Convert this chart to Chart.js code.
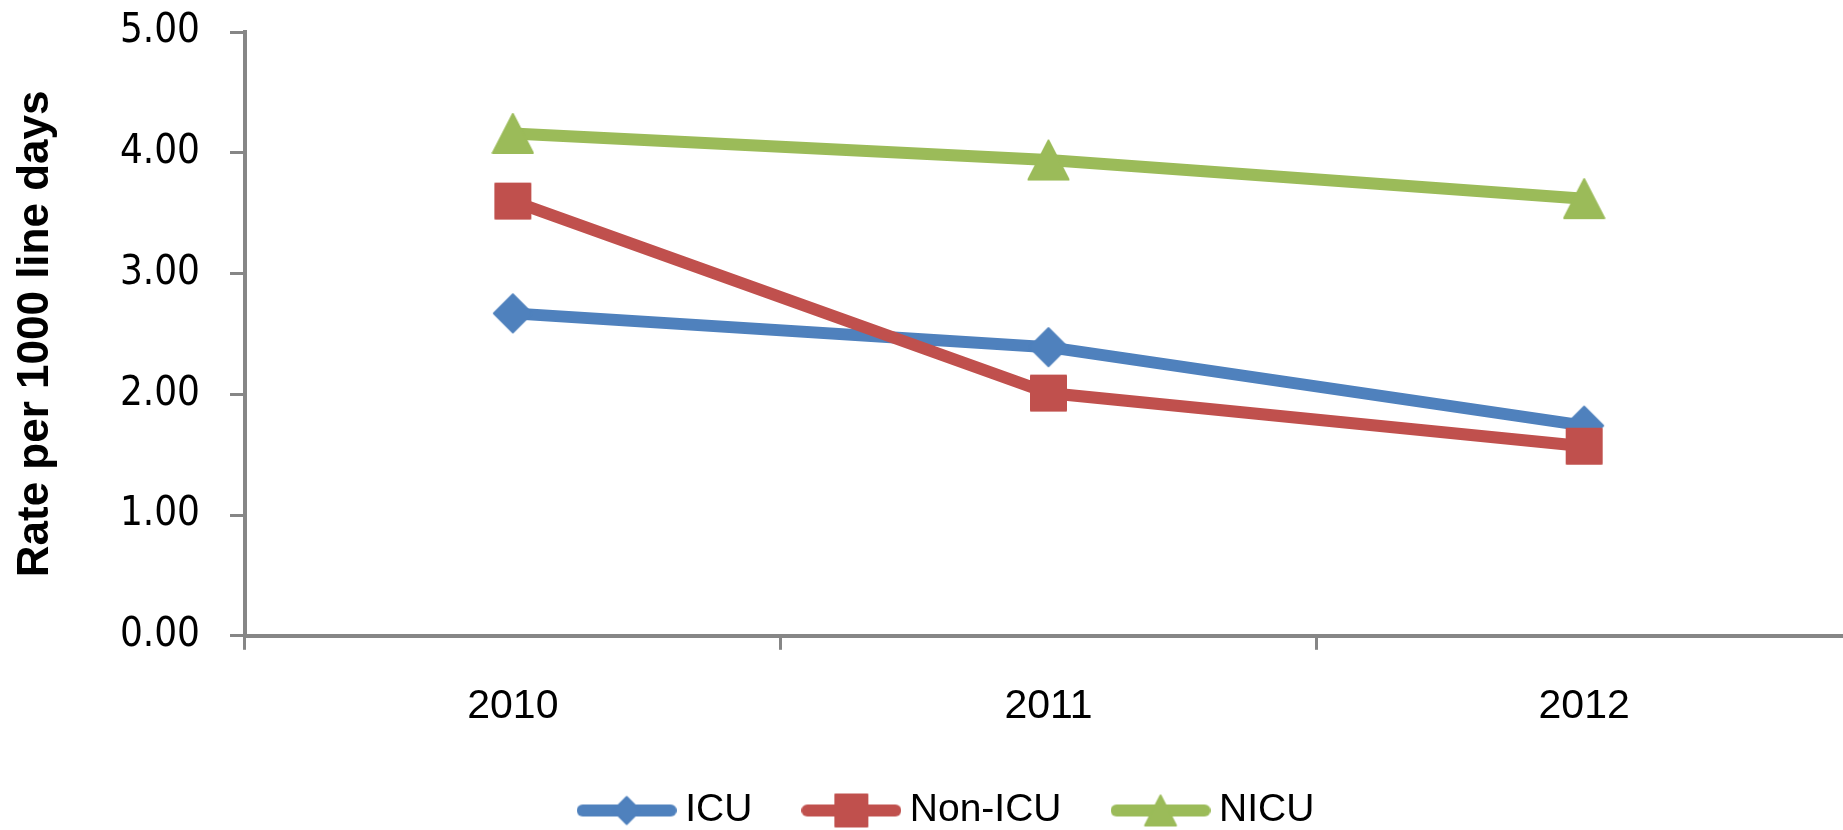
<!DOCTYPE html>
<html>
<head>
<meta charset="utf-8">
<script src="https://cdn.jsdelivr.net/npm/chart.js@4"></script>
<style>
  html, body { margin: 0; padding: 0; background: #fff; overflow: hidden; }
  #wrap { width: 1852px; height: 872px; }
</style>
</head>
<body>
<div id="wrap"><canvas id="chart"></canvas></div>
<script>
// --  data  --
const years = ['2010', '2011', '2012']
const icuRates = [2.67, 2.39, 1.74]
const nonIcuRates = [3.60, 2.01, 1.57]
const nicuRates = [4.16, 3.94, 3.62]
const yTicks = [0, 1, 2, 3, 4, 5]
const seriesNames = ['ICU', 'Non-ICU', 'NICU']

const blue = '#4F81BD'
const red = '#C0504D'
const green = '#9BBB59'
const axisGrey = '#868686'

// draws one excel-like marker, so chart and legend can share it
function drawMarker (ctx, shape, cx, cy, size, color) {
    const h = size / 2
    ctx.fillStyle = color
    ctx.strokeStyle = color
    ctx.lineWidth = 2
    ctx.lineJoin = 'round'
    ctx.beginPath()
    if (shape === 'diamond') {
        ctx.moveTo(cx, cy - h)
        ctx.lineTo(cx + h, cy)
        ctx.lineTo(cx, cy + h)
        ctx.lineTo(cx - h, cy)
    } else if (shape === 'square') {
        ctx.rect(cx - h, cy - h, size, size)
    } else {
        ctx.moveTo(cx, cy - h)
        ctx.lineTo(cx + h * 1.03, cy + h)
        ctx.lineTo(cx - h * 1.03, cy + h)
    }
    ctx.closePath()
    ctx.fill()
    ctx.stroke()
}

function makeMarker (shape, size, color) {
    const c = document.createElement('canvas')
    c.width = size + 4
    c.height = size + 4
    drawMarker(c.getContext('2d'), shape, c.width / 2, c.height / 2, size, color)
    return c
}

// legend symbol = short thick line with the marker in the middle
function makeLegendSymbol (shape, size, color) {
    const c = document.createElement('canvas')
    c.width = 100
    c.height = 40
    const ctx = c.getContext('2d')
    ctx.strokeStyle = color
    ctx.lineWidth = 12
    ctx.lineCap = 'round'
    ctx.beginPath()
    ctx.moveTo(6, 20)
    ctx.lineTo(94, 20)
    ctx.stroke()
    drawMarker(ctx, shape, 50, 20, size, color)
    return c
}

const shapes = ['diamond', 'square', 'triangle']
const colors = [blue, red, green]
const chartMarkerSize = [38, 35, 39]
const legendMarkerSize = [27, 32, 30]

function makeDataset (i, values) {
    return {
        label: seriesNames[i],
        data: values,
        borderColor: colors[i],
        backgroundColor: colors[i],
        borderWidth: 12,
        tension: 0,
        pointStyle: makeMarker(shapes[i], chartMarkerSize[i], colors[i]),
        pointRadius: 20,
        order: 3 - i // excel draws later series on top
    }
}

// small plugin: put the legend where the original has it
const moveLegend = {
    id: 'moveLegend',
    afterLayout (chart) {
        chart.legend.left += 25
        chart.legend.right += 25
        chart.legend.top -= 32
        chart.legend.bottom -= 32
    }
}

new Chart(document.getElementById('chart'), {
    type: 'line',
    data: {
        labels: years,
        datasets: [
            makeDataset(0, icuRates),
            makeDataset(1, nonIcuRates),
            makeDataset(2, nicuRates)
        ]
    },
    plugins: [moveLegend],
    options: {
        responsive: true,
        maintainAspectRatio: false,
        animation: false,
        events: [],
        layout: { autoPadding: false, padding: { top: 32, right: 0, bottom: 0, left: 0 } },
        plugins: {
            tooltip: { enabled: false },
            legend: {
                position: 'bottom',
                labels: {
                    usePointStyle: true,
                    pointStyleWidth: 78,
                    boxHeight: 37,
                    padding: 60,
                    color: '#000',
                    font: { family: 'Liberation Sans', size: 39 },
                    generateLabels: () => seriesNames.map((name, i) => ({
                        text: name,
                        pointStyle: makeLegendSymbol(shapes[i], legendMarkerSize[i], colors[i]),
                        fillStyle: colors[i],
                        strokeStyle: colors[i],
                        lineWidth: 0,
                        hidden: false,
                        datasetIndex: i
                    }))
                }
            }
        },
        scales: {
            x: {
                offset: true,
                grid: { offset: true, drawOnChartArea: false, color: axisGrey, lineWidth: 3, tickLength: 14 },
                border: { color: axisGrey, width: 4 },
                ticks: {
                    padding: 32,
                    color: '#000',
                    font: { family: 'Liberation Sans', size: 41 }
                }
            },
            y: {
                min: yTicks[0],
                max: yTicks[yTicks.length - 1],
                afterFit: (scale) => { scale.width = 245 },
                grid: { drawOnChartArea: false, color: axisGrey, lineWidth: 3, tickLength: 15 },
                border: { color: axisGrey, width: 4 },
                ticks: {
                    stepSize: 1,
                    padding: 30,
                    color: '#000',
                    // tiny lineHeight so the tick padding does not push the plot top down
                    font: { family: 'DejaVu Sans Condensed', size: 40, lineHeight: 0.1 },
                    callback: (v) => v.toFixed(2)
                },
                title: {
                    display: true,
                    text: 'Rate per 1000 line days',
                    color: '#000',
                    padding: { top: 9, bottom: 0 },
                    font: { family: 'Liberation Sans', size: 44, weight: 'bold' }
                }
            }
        }
    }
})
</script>
</body>
</html>
